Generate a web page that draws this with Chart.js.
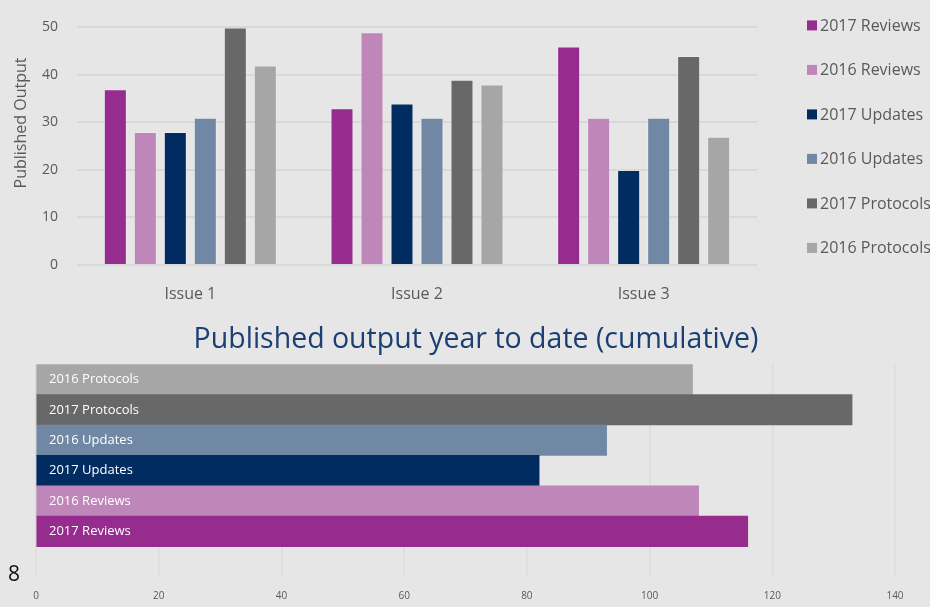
<!DOCTYPE html>
<html>
<head>
<meta charset="utf-8">
<script src="https://cdn.jsdelivr.net/npm/chart.js@4/dist/chart.umd.min.js"></script>
<style>
  html, body { margin: 0; padding: 0; background: #e6e6e6; width: 930px; height: 607px; overflow: hidden; }
  #top { position: absolute; left: 0; top: 0; width: 930px; height: 310px; }
  #bottom { position: absolute; left: 0; top: 310px; width: 930px; height: 297px; }
  #pagenum { position: absolute; left: 8px; top: 561px; font-family: "Open Sans", sans-serif; font-size: 21px; color: #111; line-height: 24px; }
</style>
</head>
<body>
<div id="top"><canvas id="c1" width="930" height="310"></canvas></div>
<div id="bottom"><canvas id="c2" width="930" height="297"></canvas></div>
<div id="pagenum">8</div>
<script>
// ---- data ----
const issues = ['Issue 1', 'Issue 2', 'Issue 3'];
const seriesNames = ['2017 Reviews', '2016 Reviews', '2017 Updates', '2016 Updates', '2017 Protocols', '2016 Protocols'];
const reviews2017 = [37, 33, 46];
const reviews2016 = [28, 49, 31];
const updates2017 = [28, 34, 20];
const updates2016 = [31, 31, 31];
const protocols2017 = [50, 39, 44];
const protocols2016 = [42, 38, 27];
const yTitle = 'Published Output';

const cumulativeTitle = 'Published output year to date (cumulative)';
const cumulativeLabels = ['2016 Protocols', '2017 Protocols', '2016 Updates', '2017 Updates', '2016 Reviews', '2017 Reviews', ''];
const cumulativeValues = [107, 133, 93, 82, 108, 116];

// ---- styles ----
const colors = {
  '2017 Reviews': '#952c8e',
  '2016 Reviews': '#bf87b9',
  '2017 Updates': '#012c62',
  '2016 Updates': '#7188a4',
  '2017 Protocols': '#686868',
  '2016 Protocols': '#a6a6a6'
};
const textGrey = '#595959';
const FONT = '"Open Sans", "Noto Sans", sans-serif';

const seriesData = [reviews2017, reviews2016, updates2017, updates2016, protocols2017, protocols2016];

// custom legend + y title for top chart
const topDecor = {
  id: 'topDecor',
  afterDraw(chart) {
    const ctx = chart.ctx;
    const a = chart.chartArea;
    ctx.save();
    ctx.font = '16px ' + FONT;
    ctx.textBaseline = 'middle';
    ctx.textAlign = 'left';
    chart.data.datasets.forEach((ds, i) => {
      const y = a.top - 2 + i * 44.5;
      const x = a.right + 50;
      ctx.fillStyle = ds.backgroundColor;
      ctx.fillRect(x, y - 5, 10, 10);
      ctx.fillStyle = textGrey;
      ctx.fillText(ds.label, x + 13, y + 1);
    });
    // y-axis title
    ctx.translate(21, 123);
    ctx.rotate(-Math.PI / 2);
    ctx.textAlign = 'center';
    ctx.fillStyle = textGrey;
    ctx.font = '16px ' + FONT;
    ctx.fillText(yTitle, 0, 0);
    ctx.restore();
  }
};

new Chart(document.getElementById('c1'), {
  type: 'bar',
  data: {
    labels: issues,
    datasets: seriesNames.map((name, i) => ({
      label: name,
      data: seriesData[i],
      backgroundColor: colors[name],
      borderColor: 'rgba(255,255,255,0.2)',
      borderWidth: { top: 1, left: 1, right: 1, bottom: 0 },
      categoryPercentage: 0.794,
      barPercentage: 0.767
    }))
  },
  options: {
    responsive: false,
    animation: false,
    devicePixelRatio: 1,
    layout: { padding: { top: 26, right: 173, left: 0, bottom: 0 } },
    plugins: { legend: { display: false }, tooltip: { enabled: false } },
    scales: {
      x: {
        grid: { display: false, drawTicks: false },
        border: { display: false },
        ticks: { color: textGrey, font: { family: FONT, size: 16 }, padding: 20 },
        afterFit(s) { s.height = 45; }
      },
      y: {
        min: 0, max: 50,
        ticks: { stepSize: 10, color: textGrey, font: { family: FONT, size: 14 }, padding: 19 },
        grid: { color: '#d8d8d8', lineWidth: 2, drawTicks: false },
        border: { display: false },
        afterFit(s) { s.width = 77; }
      }
    }
  },
  plugins: [topDecor]
});

// bottom chart
const innerLabels = {
  id: 'innerLabels',
  afterDraw(chart) {
    const ctx = chart.ctx;
    const meta = chart.getDatasetMeta(0);
    ctx.save();
    ctx.font = '13px ' + FONT;
    ctx.fillStyle = '#ffffff';
    ctx.textAlign = 'left';
    ctx.textBaseline = 'middle';
    meta.data.forEach((bar, i) => {
      ctx.fillText(chart.data.labels[i], chart.chartArea.left + 13, bar.y);
    });
    ctx.restore();
  }
};

new Chart(document.getElementById('c2'), {
  type: 'bar',
  data: {
    labels: cumulativeLabels,
    datasets: [{
      data: cumulativeValues,
      backgroundColor: cumulativeLabels.slice(0, cumulativeValues.length).map(l => colors[l]),
      borderWidth: 0,
      categoryPercentage: 1,
      barPercentage: 1
    }]
  },
  options: {
    indexAxis: 'y',
    responsive: false,
    animation: false,
    devicePixelRatio: 1,
    layout: { padding: { left: 22, right: 0, top: 0, bottom: 0 } },
    plugins: {
      legend: { display: false },
      tooltip: { enabled: false },
      title: {
        display: true,
        text: cumulativeTitle,
        color: '#1b3f73',
        font: { family: FONT, size: 28.5, weight: 'normal', lineHeight: 1.2 },
        padding: { top: 13, bottom: 7 }
      }
    },
    scales: {
      x: {
        min: 0, max: 140,
        z: 1,
        ticks: { stepSize: 20, color: textGrey, font: { family: FONT, size: 10 }, padding: 13 },
        grid: { color: 'rgba(0,0,0,0.045)', lineWidth: 1.5, drawTicks: false },
        border: { display: false },
        afterFit(s) { s.height = 30; }
      },
      y: {
        display: true,
        ticks: { display: false },
        grid: { display: false },
        border: { display: false },
        afterFit(s) { s.width = 14; }
      },
      y2: {
        type: 'category',
        labels: cumulativeLabels,
        position: 'right',
        display: true,
        ticks: { display: false },
        grid: { display: false },
        border: { display: false },
        afterFit(s) { s.width = 35; }
      }
    }
  },
  plugins: [innerLabels]
});
</script>
</body>
</html>
